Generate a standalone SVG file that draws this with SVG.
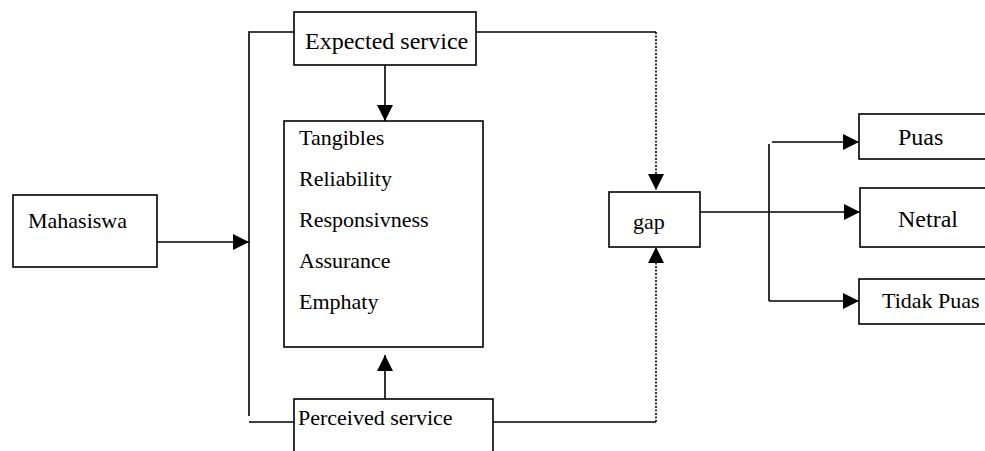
<svg xmlns="http://www.w3.org/2000/svg" width="985" height="451" viewBox="0 0 985 451">
<style>
.box{fill:#fff;stroke:#000;stroke-width:1.6}
.t{font-family:"Liberation Serif","Times New Roman",serif;fill:#000}
.s22{font-size:22px}
.s24{font-size:24px}
.ln{fill:none;stroke:#000;stroke-width:1.6}
.dot{fill:none;stroke:#000;stroke-width:1.6;stroke-dasharray:2 1.5}
</style>
<defs>
<marker id="arr" markerUnits="userSpaceOnUse" markerWidth="16" markerHeight="16" viewBox="0 0 14 14" refX="14" refY="7" orient="auto">
<path d="M0,0 L14,7 L0,14 Z" fill="#000"/>
</marker>
</defs>
<g id="connectors">
<polyline class="ln" points="294,32 249,32 249,416"/>
<line class="ln" x1="249" y1="422" x2="294" y2="422"/>
<line class="ln" x1="157" y1="242" x2="249" y2="242" marker-end="url(#arr)"/>
<line class="ln" x1="385" y1="65" x2="385" y2="121" marker-end="url(#arr)"/>
<line class="ln" x1="385" y1="399" x2="385" y2="355" marker-end="url(#arr)"/>
<line class="ln" x1="476" y1="32" x2="656" y2="32"/>
<line class="dot" x1="656" y1="32" x2="656" y2="190" marker-end="url(#arr)"/>
<line class="ln" x1="493" y1="422" x2="656" y2="422"/>
<line class="dot" x1="656" y1="422" x2="656" y2="247" marker-end="url(#arr)"/>
<line class="ln" x1="700" y1="212" x2="860" y2="212" marker-end="url(#arr)"/>
<line class="ln" x1="769" y1="144" x2="769" y2="301"/>
<line class="ln" x1="772" y1="142" x2="859" y2="142" marker-end="url(#arr)"/>
<line class="ln" x1="769" y1="301" x2="859" y2="301" marker-end="url(#arr)"/>
</g>
<g id="expected">
<rect class="box" x="294" y="12" width="182" height="53"/>
<text class="t s24" x="305" y="49">Expected service</text>
</g>
<g id="perceived">
<rect class="box" x="294" y="399" width="199" height="70"/>
<text class="t s22" x="298" y="425">Perceived service</text>
</g>
<g id="mahasiswa">
<rect class="box" x="13" y="195" width="144" height="72"/>
<text class="t s22" x="28" y="228">Mahasiswa</text>
</g>
<g id="dimensions">
<rect class="box" x="284" y="121" width="199" height="226"/>
<text class="t s22" x="299" y="145">Tangibles</text>
<text class="t s22" x="299" y="186">Reliability</text>
<text class="t s22" x="299" y="227">Responsivness</text>
<text class="t s22" x="299" y="268">Assurance</text>
<text class="t s22" x="299" y="309">Emphaty</text>
</g>
<g id="gap">
<rect class="box" x="609" y="192" width="91" height="55"/>
<text class="t s22" x="633" y="229">gap</text>
</g>
<g id="puas">
<rect class="box" x="859" y="114" width="140" height="45"/>
<text class="t s24" x="898" y="145">Puas</text>
</g>
<g id="netral">
<rect class="box" x="860" y="188" width="140" height="59"/>
<text class="t s24" x="898" y="227">Netral</text>
</g>
<g id="tidakpuas">
<rect class="box" x="859" y="279" width="140" height="45"/>
<text class="t s22" x="882" y="308">Tidak Puas</text>
</g>
</svg>
